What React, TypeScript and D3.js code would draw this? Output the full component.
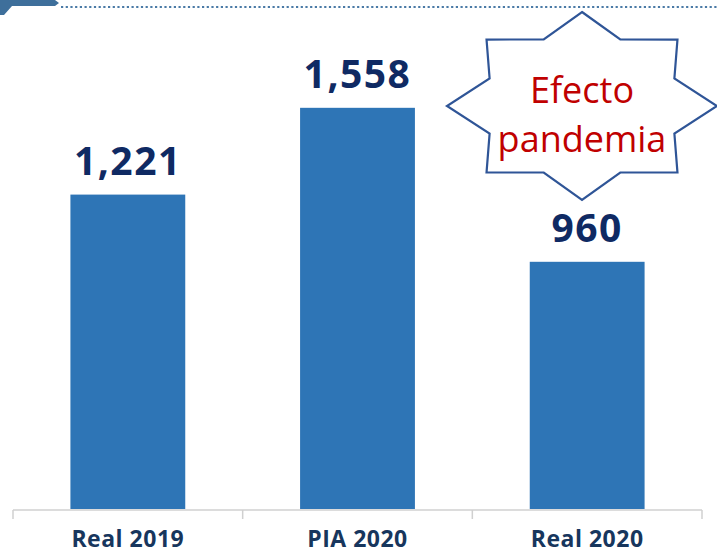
import { useRef, useEffect } from 'react';
import * as d3 from 'd3';

const categories = ['Real 2019', 'PIA 2020', 'Real 2020'];
const values = [1221, 1558, 960];
const valueLabels = ['1,221', '1,558', '960'];
const calloutLines = ['Efecto', 'pandemia'];

const W = 717;
const H = 555;

const App = () => {
  const svgRef = useRef<SVGSVGElement>(null);

  useEffect(() => {
    const svg = d3.select(svgRef.current);
    svg.selectAll('*').remove();

    const x = d3.scaleBand<string>()
      .domain(categories)
      .range([13, 702])
      .paddingInner(0.5)
      .paddingOuter(0.25);

    const y = d3.scaleLinear()
      .domain([0, 2000])
      .range([509, -6]);

    // header decoration
    svg.append('path')
      .attr('d', 'M0,0 L55,0 L59,3 L55,6 L12,6 L4,15 L0,15 Z')
      .attr('fill', '#3e6f9b');
    svg.append('line')
      .attr('x1', 61).attr('x2', W)
      .attr('y1', 7).attr('y2', 7)
      .attr('stroke', '#4a7aa6')
      .attr('stroke-width', 2.2)
      .attr('stroke-dasharray', '2.2,2.5');

    // bars
    svg.selectAll('rect.bar')
      .data(values)
      .enter()
      .append('rect')
      .attr('class', 'bar')
      .attr('x', (_, i) => x(categories[i])!)
      .attr('width', x.bandwidth())
      .attr('y', d => y(d))
      .attr('height', d => y(0) - y(d))
      .attr('fill', '#2e75b6');

    // value labels
    svg.selectAll('text.val')
      .data(values)
      .enter()
      .append('text')
      .attr('class', 'val')
      .attr('x', (_, i) => x(categories[i])! + x.bandwidth() / 2)
      .attr('y', d => y(d) - 20)
      .attr('text-anchor', 'middle')
      .attr('font-family', 'Open Sans, sans-serif')
      .attr('font-weight', 'bold')
      .attr('font-size', 39)
      .attr('letter-spacing', 1.5)
      .attr('fill', '#0f2a63')
      .text((_, i) => valueLabels[i]);

    // axis
    const axisY = y(0) + 1;
    svg.append('line')
      .attr('x1', 13).attr('x2', 702)
      .attr('y1', axisY).attr('y2', axisY)
      .attr('stroke', '#d0d0d0').attr('stroke-width', 1.5);
    const step = x.step();
    const ticks = d3.range(categories.length + 1).map(i => 13 + i * step);
    svg.selectAll('line.tick')
      .data(ticks)
      .enter()
      .append('line')
      .attr('class', 'tick')
      .attr('x1', d => d).attr('x2', d => d)
      .attr('y1', axisY).attr('y2', axisY + 9)
      .attr('stroke', '#d0d0d0').attr('stroke-width', 1.5);

    svg.selectAll('text.cat')
      .data(categories)
      .enter()
      .append('text')
      .attr('class', 'cat')
      .attr('x', d => x(d)! + x.bandwidth() / 2)
      .attr('y', 547)
      .attr('text-anchor', 'middle')
      .attr('font-family', 'Open Sans, sans-serif')
      .attr('font-weight', 'bold')
      .attr('font-size', 23)
      .attr('letter-spacing', 0.5)
      .attr('fill', '#17365d')
      .text(d => d);

    // starburst callout
    const cx = 582, cy = 106;
    const pts: [number, number][] = d3.range(16).map(i => {
      const a = (i * Math.PI) / 8 - Math.PI / 2;
      const outer = i % 2 === 0;
      const rx = outer ? 135 : 100;
      const ry = outer ? 94 : 72;
      return [cx + rx * Math.cos(a), cy + ry * Math.sin(a)];
    });
    svg.append('path')
      .attr('d', d3.line()(pts)! + 'Z')
      .attr('fill', '#ffffff')
      .attr('stroke', '#2f5597')
      .attr('stroke-width', 2.2)
      .attr('stroke-linejoin', 'miter');

    svg.selectAll('text.callout')
      .data(calloutLines)
      .enter()
      .append('text')
      .attr('class', 'callout')
      .attr('x', cx)
      .attr('y', (_, i) => 103 + i * 49)
      .attr('text-anchor', 'middle')
      .attr('font-family', 'Open Sans, sans-serif')
      .attr('font-size', 36)
      .attr('fill', '#c00000')
      .text(d => d);
  }, []);

  return (
    <svg ref={svgRef} width={W} height={H}
      style={{ position: 'absolute', left: 0, top: 0, background: '#fff' }} />
  );
};

export default App;
